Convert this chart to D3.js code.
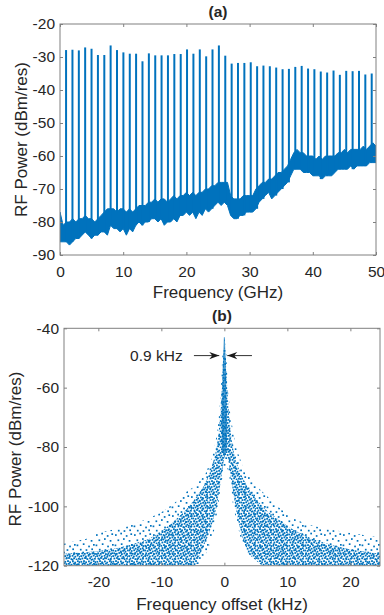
<!DOCTYPE html>
<html>
<head>
<meta charset="utf-8">
<script src="https://cdn.jsdelivr.net/npm/d3@7"></script>
<style>
    body { margin: 0; background: #fff; }
    text { font-family: "Liberation Sans", Arial, sans-serif; fill: #262626; }
</style>
</head>
<body>
<div id="chart"></div>
<script>
// ---- panel (a): RF comb spectrum ----
const xTicksA = [0, 10, 20, 30, 40, 50];
const yTicksA = [-90, -80, -70, -60, -50, -40, -30, -20];

// comb line frequencies (GHz) and their peak power (dBm/res)
const combFreq = [0.96, 1.97, 2.98, 3.98, 4.99, 6.00, 7.01, 8.01, 9.02, 10.03,
    11.04, 12.04, 13.05, 14.06, 15.07, 16.07, 17.08, 18.09, 19.10, 20.10,
    21.11, 22.12, 23.13, 24.13, 25.14, 26.15, 27.16, 28.16, 29.17, 30.18,
    31.19, 32.19, 33.20, 34.21, 35.22, 36.22, 37.23, 38.24, 39.25, 40.25,
    41.26, 42.27, 43.28, 44.28, 45.29, 46.30, 47.31, 48.31, 49.32];
const combPeak = [-27.9, -27.8, -28.0, -27.1, -27.5, -29.4, -29.4, -26.5, -27.9, -28.6,
    -29.0, -29.0, -31.3, -28.9, -29.5, -29.5, -29.5, -29.1, -29.1, -27.7,
    -29.0, -27.7, -29.8, -27.7, -26.5, -29.6, -32.0, -31.8, -31.8, -31.6,
    -32.8, -32.6, -32.8, -33.2, -33.7, -33.6, -33.0, -32.7, -33.5, -33.7,
    -34.4, -34.7, -34.1, -35.4, -34.2, -34.3, -34.2, -35.3, -35.0];

// noise floor band, sampled every 0.5 GHz
const floorFreq = d3.range(0, 50.01, 0.5);
const floorTop = [-77, -81, -80, -80, -79, -80, -79, -79, -78, -79,
    -79, -80, -79, -78, -77, -76, -76, -76, -77, -76,
    -76, -77, -76, -77, -76, -75, -75, -75, -74, -74,
    -73, -74, -73, -73, -74, -73, -72, -73, -72, -72,
    -71, -72, -71, -72, -71, -71, -70, -70, -69, -69,
    -68, -68, -68, -68, -72, -73, -73, -73, -72, -72,
    -72, -72, -70, -69, -68, -68, -67, -67, -66, -65,
    -65, -64, -63, -61, -59, -58, -59, -59, -60, -60,
    -60, -61, -60, -61, -60, -60, -60, -60, -59, -59,
    -58, -59, -58, -58, -58, -58, -57, -58, -57, -56, -57];
const floorBottom = [-86, -86, -86, -87, -86, -85, -85, -84, -83, -84,
    -85, -84, -84, -83, -83, -84, -81, -82, -82, -83,
    -82, -84, -82, -83, -81, -80, -81, -80, -80, -79,
    -79, -80, -79, -81, -80, -80, -79, -80, -78, -78,
    -77, -78, -77, -79, -77, -78, -76, -77, -76, -75,
    -74, -75, -74, -75, -78, -79, -79, -78, -78, -77,
    -77, -77, -76, -74, -73, -72, -71, -73, -72, -71,
    -70, -69, -68, -66, -64, -64, -64, -65, -65, -65,
    -66, -66, -66, -67, -66, -66, -66, -65, -64, -64,
    -64, -64, -63, -64, -63, -63, -63, -63, -62, -62, -62];

// ---- panel (b): beat note, scattered points outlined by density ----
const xTicksB = [-20, -10, 0, 10, 20];
const yTicksB = [-120, -100, -80, -60, -40];

// outline of the sparse fringe of the scatter (kHz, dBm/res)
const sparseKHz = [-25.45, -22, -20, -15, -12, -10, -8, -6, -4.5, -3, -2, -1.3, -0.8, -0.5, -0.3, 0,
    0.3, 0.5, 0.9, 1.4, 2, 3, 4, 5.5, 7, 9, 11, 13, 16, 20, 24.7,
    24.7, 7.5, 5, 3.5, 2.5, 1.4, 0.8, 0.3, -0.5, -1, -1.6, -2.5, -3.8, -25.45];
const sparseDb = [-112.5, -111, -109, -106.5, -104, -102, -99, -95, -93, -89, -84, -77, -68, -58, -48, -43,
    -48, -58, -68, -75, -81, -87, -90, -94, -97, -101, -104, -106, -107.5, -109, -110.5,
    -120, -120, -118, -115, -110, -100, -90, -86, -92, -100, -108, -114, -120, -120];

// outline of the dense core of the scatter
const denseKHz = [-25.45, -22, -18, -15, -12, -10, -8, -6, -4.5, -3.2, -2.2, -1.5, -1.0, -0.6, -0.35, -0.2, 0,
    0.2, 0.4, 0.7, 1.1, 1.7, 2.6, 3.8, 5.2, 7, 9, 11, 14, 17, 20, 24.7,
    24.7, 6, 3.8, 2.8, 2.1, 1.6, 1.0, 0.6, 0.1, -0.2, -0.6, -1.2, -2.2, -3.4, -4.6, -25.45];
const denseDb = [-116, -115.5, -114.5, -113, -111, -108.5, -105, -101, -97, -93, -88, -83, -77, -68, -58, -50, -46,
    -50, -58, -68, -77, -84, -89, -94, -98, -102, -105, -108, -111, -113, -114.5, -116,
    -120, -120, -116, -110, -104, -98, -90, -84, -82, -86, -92, -100, -108, -114, -120, -120];

// narrow central spike
const spikeKHz = [-0.08, 0.08, 0.22, 0.32, 0.45, 0.4, 0, -0.4, -0.45, -0.32, -0.22];
const spikeDb = [-43, -43, -52, -62, -72, -80, -84, -80, -72, -62, -52];

// linewidth annotation
const annoLabel = '0.9 kHz';
const annoTextKHz = -6.62;
const annoDb = -49.2;
const arrowTailKHz = [-4.83, 4.38];
const arrowTipKHz = [-0.81, 0.46];

const blue = '#0072BD';
const boxColor = '#808080';

const svg = d3.select('#chart')
    .append('svg')
    .attr('width', 384)
    .attr('height', 615);

const defs = svg.append('defs');

// dot textures for the scatter (style only)
function dotPattern(id, size, dots, dotSize) {
    const p = defs.append('pattern')
        .attr('id', id)
        .attr('patternUnits', 'userSpaceOnUse')
        .attr('width', size).attr('height', size);
    dots.forEach(d => {
        p.append('rect')
            .attr('x', d[0]).attr('y', d[1])
            .attr('width', dotSize).attr('height', dotSize)
            .attr('fill', blue);
    });
}

dotPattern('dots-dense', 16, [
    [0.4, 0.9], [3.1, 0.2], [5.2, 1.4], [8.0, 0.5], [10.3, 1.7], [12.9, 0.3], [14.6, 1.2],
    [1.6, 3.2], [4.0, 2.9], [6.7, 3.8], [9.1, 2.8], [11.6, 4.1], [13.9, 3.3],
    [0.2, 5.6], [2.7, 6.1], [5.3, 5.4], [7.9, 6.6], [10.2, 5.9], [12.6, 6.8], [15.0, 5.5],
    [1.3, 8.4], [3.9, 8.9], [6.4, 8.1], [9.0, 9.2], [11.5, 8.5], [14.1, 9.0],
    [0.3, 11.2], [2.6, 10.6], [5.0, 11.6], [7.7, 10.9], [10.4, 11.8], [12.8, 10.7], [15.1, 11.9],
    [1.5, 13.6], [4.1, 13.1], [6.5, 14.2], [9.2, 13.4], [11.7, 14.5], [14.0, 13.8]
], 1.8);

dotPattern('dots-sparse', 19, [
    [1.0, 2.2], [6.3, 0.7], [11.8, 3.1], [16.4, 1.3], [3.5, 7.4], [9.0, 6.2], [14.7, 8.0],
    [0.6, 12.5], [6.8, 11.3], [12.2, 13.6], [17.0, 12.0], [3.9, 16.8], [9.6, 17.2], [15.3, 16.4]
], 1.7);

defs.append('marker')
    .attr('id', 'arrowhead')
    .attr('viewBox', '-11 -5 12 10')
    .attr('markerUnits', 'userSpaceOnUse')
    .attr('markerWidth', 12).attr('markerHeight', 10)
    .attr('refX', 0).attr('refY', 0)
    .attr('orient', 'auto')
    .append('path')
    .attr('d', 'M0,0 L-10,-3.6 L-7,0 L-10,3.6 Z')
    .attr('fill', '#1a1a1a');

// draw a MATLAB-like boxed frame with inward ticks
function drawFrame(g, x, y, xTicks, yTicks, padX) {
    const [x0, x1] = x.range();
    const [y0, y1] = y.range();
    const fmt = d => String(d);

    g.append('g')
        .attr('transform', `translate(0,${y0})`)
        .call(d3.axisBottom(x).tickValues(xTicks).tickFormat(fmt)
            .tickSizeInner(-3).tickSizeOuter(0).tickPadding(padX));
    g.append('g')
        .attr('transform', `translate(0,${y1})`)
        .call(d3.axisTop(x).tickValues(xTicks).tickFormat('')
            .tickSizeInner(-3).tickSizeOuter(0));
    g.append('g')
        .attr('transform', `translate(${x0},0)`)
        .call(d3.axisLeft(y).tickValues(yTicks).tickFormat(fmt)
            .tickSizeInner(-3).tickSizeOuter(0).tickPadding(5));
    g.append('g')
        .attr('transform', `translate(${x1},0)`)
        .call(d3.axisRight(y).tickValues(yTicks).tickFormat('')
            .tickSizeInner(-3).tickSizeOuter(0));

    g.selectAll('.domain').remove();
    g.selectAll('.tick line').attr('stroke', boxColor);
    g.selectAll('.tick text')
        .attr('font-size', '15.5px')
        .attr('font-family', '"Liberation Sans", Arial, sans-serif')
        .attr('fill', '#262626');

    g.append('rect')
        .attr('x', x0).attr('y', y1)
        .attr('width', x1 - x0).attr('height', y0 - y1)
        .attr('fill', 'none')
        .attr('stroke', boxColor)
        .attr('stroke-width', 1);
}

// ---------------- panel (a) ----------------
const xA = d3.scaleLinear().domain([0, 50]).range([60, 376]);
const yA = d3.scaleLinear().domain([-90, -20]).range([255, 24]);

const gA = svg.append('g');

defs.append('clipPath').attr('id', 'clip-a')
    .append('rect')
    .attr('x', 60).attr('y', 24).attr('width', 316).attr('height', 231);

const plotA = gA.append('g').attr('clip-path', 'url(#clip-a)');

const floorArea = d3.area()
    .x((d, i) => xA(floorFreq[i]))
    .y0((d, i) => yA(floorBottom[i]))
    .y1((d, i) => yA(floorTop[i]));

plotA.append('path')
    .datum(floorFreq)
    .attr('d', floorArea)
    .attr('fill', blue)
    .attr('stroke', blue)
    .attr('stroke-width', 1);

plotA.selectAll('line.comb')
    .data(combFreq)
    .join('line')
    .attr('class', 'comb')
    .attr('x1', d => xA(d))
    .attr('x2', d => xA(d))
    .attr('y1', (d, i) => yA(combPeak[i]))
    .attr('y2', d => yA(floorBottom[Math.round(d * 2)]))
    .attr('stroke', blue)
    .attr('stroke-width', 2);

drawFrame(gA, xA, yA, xTicksA, yTicksA, 11);

gA.append('text')
    .attr('x', 218).attr('y', 17)
    .attr('text-anchor', 'middle')
    .attr('font-size', '15.5px')
    .attr('font-weight', 'bold')
    .text('(a)');

gA.append('text')
    .attr('x', 218).attr('y', 297.5)
    .attr('text-anchor', 'middle')
    .attr('font-size', '17px')
    .text('Frequency (GHz)');

gA.append('text')
    .attr('transform', 'rotate(-90)')
    .attr('x', -139.5).attr('y', 27)
    .attr('text-anchor', 'middle')
    .attr('font-size', '17px')
    .text('RF Power (dBm/res)');

// ---------------- panel (b) ----------------
const xB = d3.scaleLinear().domain([-25.45, 24.7]).range([64, 380]);
const yB = d3.scaleLinear().domain([-120, -40]).range([565.7, 328.3]);

const gB = svg.append('g');

defs.append('clipPath').attr('id', 'clip-b')
    .append('rect')
    .attr('x', 64).attr('y', 328.3).attr('width', 316).attr('height', 237.4);

const plotB = gB.append('g').attr('clip-path', 'url(#clip-b)');

const outline = (kx, db) => d3.line()
    .x((d, i) => xB(kx[i]))
    .y((d, i) => yB(db[i]))(kx) + 'Z';

plotB.append('path')
    .attr('d', outline(sparseKHz, sparseDb))
    .attr('fill', 'url(#dots-sparse)');

plotB.append('path')
    .attr('d', outline(denseKHz, denseDb))
    .attr('fill', 'url(#dots-dense)');

plotB.append('path')
    .attr('d', outline(spikeKHz, spikeDb))
    .attr('fill', blue)
    .attr('fill-opacity', 0.7);

drawFrame(gB, xB, yB, xTicksB, yTicksB, 10.5);

// linewidth arrows
arrowTailKHz.forEach((t, i) => {
    gB.append('line')
        .attr('x1', xB(t)).attr('y1', yB(annoDb))
        .attr('x2', xB(arrowTipKHz[i])).attr('y2', yB(annoDb))
        .attr('stroke', '#1a1a1a')
        .attr('stroke-width', 0.9)
        .attr('marker-end', 'url(#arrowhead)');
});

gB.append('text')
    .attr('x', xB(annoTextKHz)).attr('y', yB(annoDb))
    .attr('dy', '0.35em')
    .attr('text-anchor', 'end')
    .attr('font-size', '15.5px')
    .text(annoLabel);

gB.append('text')
    .attr('x', 222).attr('y', 321)
    .attr('text-anchor', 'middle')
    .attr('font-size', '15.5px')
    .attr('font-weight', 'bold')
    .text('(b)');

gB.append('text')
    .attr('x', 222).attr('y', 610)
    .attr('text-anchor', 'middle')
    .attr('font-size', '17px')
    .text('Frequency offset (kHz)');

gB.append('text')
    .attr('transform', 'rotate(-90)')
    .attr('x', -449).attr('y', 21)
    .attr('text-anchor', 'middle')
    .attr('font-size', '17px')
    .text('RF Power (dBm/res)');
</script>
</body>
</html>
